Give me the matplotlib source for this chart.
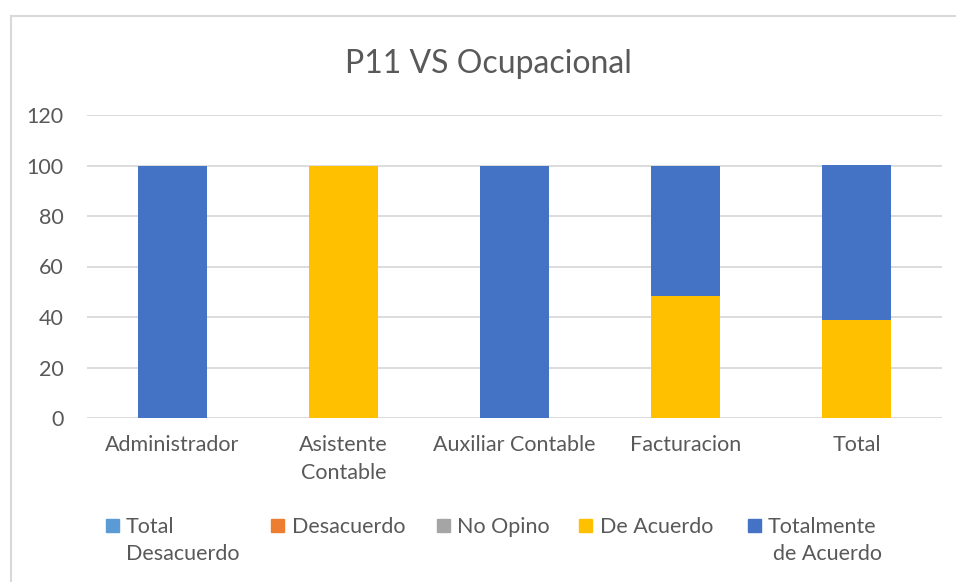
import matplotlib
matplotlib.use("Agg")
import matplotlib.pyplot as plt
from matplotlib.patches import Rectangle
from matplotlib.lines import Line2D

plt.rcParams["font.family"] = ["Lato", "DejaVu Sans"]

categories = ["Administrador", "Asistente\nContable", "Auxiliar Contable",
              "Facturacion", "Total"]
series_names = ["Total\nDesacuerdo", "Desacuerdo", "No Opino", "De Acuerdo",
                "Totalmente\nde Acuerdo"]
total_desacuerdo = [0, 0, 0, 0, 0]
desacuerdo = [0, 0, 0, 0, 0]
no_opino = [0, 0, 0, 0, 0]
de_acuerdo = [0, 100, 0, 48.4, 39]
totalmente = [100, 0, 100, 51.6, 61]
yticks = [0, 20, 40, 60, 80, 100, 120]

colors = ["#5B9BD5", "#ED7D31", "#A5A5A5", "#FFC000", "#4472C4"]
text_col = "#595959"
W, H = 956, 582
FS = 15.5

fig = plt.figure(figsize=(W / 100, H / 100), dpi=100)
ax = fig.add_axes([87 / W, 1 - 418 / H, (942 - 87) / W, (418 - 115) / H])

x = list(range(len(categories)))
bottom = [0] * len(categories)
for vals, c in zip([total_desacuerdo, desacuerdo, no_opino, de_acuerdo, totalmente], colors):
    ax.bar(x, vals, width=0.4, bottom=bottom, color=c, zorder=3)
    bottom = [b + v for b, v in zip(bottom, vals)]

ax.set_xlim(-0.5, len(categories) - 0.5)
ax.set_ylim(0, 120)
ax.set_yticks(yticks)
ax.set_xticks(x)
ax.set_xticklabels(categories, fontsize=FS, color=text_col, linespacing=1.55)
ax.tick_params(axis="y", labelsize=FS, labelcolor=text_col, length=0, pad=17)
ax.tick_params(axis="x", length=0, pad=12)
ax.grid(axis="y", color="#D9D9D9", linewidth=1.3, zorder=0)
for s in ax.spines.values():
    s.set_visible(False)

fig.text(488 / W, 1 - 64 / H, "P11 VS Ocupacional", fontsize=23, color=text_col,
         ha="center", va="center")

# legend, drawn by hand so the square sits next to the first line
sq_x = [106, 271, 437, 579, 748]
txt_x = [126, 292, 457, 600, 768]
indent2 = [0, 0, 0, 0, 5]
for sx, tx, ind, name, c in zip(sq_x, txt_x, indent2, series_names, colors):
    fig.add_artist(Rectangle((sx / W, 1 - 532 / H), 13 / W, 13 / H,
                             transform=fig.transFigure, color=c))
    for i, line in enumerate(name.split("\n")):
        fig.text((tx + ind * i) / W, 1 - (533 + 27 * i) / H, line, fontsize=FS,
                 color=text_col, ha="left", va="baseline")

# chart border (top and left edges visible)
fig.add_artist(Line2D([10.5 / W, 1], [1 - 15.5 / H, 1 - 15.5 / H],
                      transform=fig.transFigure, color="#D9D9D9", linewidth=1.5))
fig.add_artist(Line2D([10.5 / W, 10.5 / W], [0, 1 - 15.5 / H],
                      transform=fig.transFigure, color="#D9D9D9", linewidth=1.5))

fig.savefig("out.png", dpi=100)
